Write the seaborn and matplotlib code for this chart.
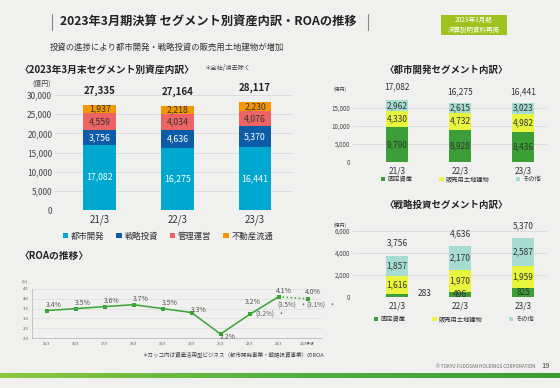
import matplotlib
matplotlib.use("Agg")
import matplotlib.pyplot as plt
import seaborn as sns
import numpy as np
import pandas as pd
from matplotlib.patches import Rectangle, Patch
from matplotlib.lines import Line2D
from matplotlib.colors import LinearSegmentedColormap

# ---------------- data ----------------
periods = ["21/3", "22/3", "23/3"]

seg_names = ["都市開発", "戦略投資", "管理運営", "不動産流通"]
seg_urban = [17082, 16275, 16441]
seg_strategic = [3756, 4636, 5370]
seg_mgmt = [4559, 4034, 4076]
seg_realestate = [1937, 2218, 2230]
seg_totals = [27335, 27164, 28117]

sub_names = ["固定資産", "販売用土地建物", "その他"]
ud_fixed = [9790, 8928, 8436]
ud_sale = [4330, 4732, 4982]
ud_other = [2962, 2615, 3023]
ud_totals = [17082, 16275, 16441]

si_fixed = [283, 496, 825]
si_sale = [1616, 1970, 1959]
si_other = [1857, 2170, 2587]
si_totals = [3756, 4636, 5370]

roa_periods = ["15/3", "16/3", "17/3", "18/3", "19/3", "20/3", "21/3", "22/3", "23/3", "24/3予想"]
roa_values = [3.4, 3.5, 3.6, 3.7, 3.5, 3.3, 2.2, 3.2, 4.1, 4.0]
roa_asset_labels = ["", "", "", "", "", "", "", "(3.2%)", "(3.5%)", "(3.1%)"]

# ---------------- style ----------------
sns.set_theme(style="white")
plt.rcParams["font.family"] = ["Noto Sans CJK JP", "DejaVu Sans"]
BG = "#f0f0ee"
W, H = 560, 388

seg_colors = ["#00a8d0", "#0d5ca8", "#ee6464", "#f39800"]
seg_txt = ["white", "white", "#333333", "#333333"]
sub_colors = ["#3c9e36", "#e8f53c", "#a6dcd2"]
sub_txt = ["#333333", "#333333", "#333333"]
GREEN = "#3aa335"

fig = plt.figure(figsize=(W / 100, H / 100), dpi=100, facecolor=BG)


def rect(x0, y0, x1, y1):
    return [x0 / W, 1 - y1 / H, (x1 - x0) / W, (y1 - y0) / H]


def fx(x):
    return x / W


def fy(y):
    return 1 - y / H


def stacked(ax, series, colors, width):
    arr = np.array(series, dtype=float)
    cum = np.cumsum(arr, axis=0)
    for k in range(len(series) - 1, -1, -1):
        df = pd.DataFrame({"period": periods, "v": cum[k]})
        sns.barplot(data=df, x="period", y="v", color=colors[k], saturation=1,
                    width=width, errorbar=None, ax=ax, linewidth=0)
    return arr, cum


def style_axes(ax, ymax, yticks, fs_tick, fs_cat):
    ax.set_facecolor(BG)
    ax.set_ylim(0, ymax)
    ax.set_yticks(yticks)
    ax.set_yticklabels([f"{t:,}" for t in yticks], fontsize=fs_tick, color="#444444")
    ax.tick_params(axis="x", labelsize=fs_cat, colors="#333333", length=0, pad=3)
    ax.tick_params(axis="y", length=0, pad=2)
    ax.set_xlabel("")
    ax.set_ylabel("")
    for s in ax.spines.values():
        s.set_visible(False)
    ax.grid(axis="y", color="#d9d9d9", linewidth=0.6)
    ax.set_axisbelow(True)


# ---------------- header ----------------
fig.add_artist(Line2D([fx(52), fx(52)], [fy(14), fy(30)], color="#888888", lw=0.8))
fig.add_artist(Line2D([fx(368), fx(368)], [fy(14), fy(30)], color="#888888", lw=0.8))
fig.text(fx(60), fy(22), "2023年3月期決算 セグメント別資産内訳・ROAの推移", fontsize=8.8,
         fontweight="bold", color="#222222", va="center", ha="left")
fig.add_artist(Rectangle((fx(441), fy(35)), (507 - 441) / W, 20 / H, transform=fig.transFigure,
                         facecolor="#9fc31e", edgecolor="none"))
fig.text(fx(474), fy(25), "2023年3月期\n決算説明資料再掲", fontsize=4.7, color="white",
         ha="center", va="center", linespacing=1.2)
fig.text(fx(50), fy(47), "投資の進捗により都市開発・戦略投資の販売用土地建物が増加", fontsize=6,
         color="#333333", va="center", ha="left")

# ---------------- main stacked chart ----------------
fig.text(fx(20), fy(70), "〈2023年3月末セグメント別資産内訳〉", fontsize=7, fontweight="bold",
         color="#222222", va="center", ha="left")
fig.text(fx(205), fy(68), "＊全社/消去除く", fontsize=4.5, color="#444444", va="center", ha="left")

ax1 = fig.add_axes(rect(55, 95, 293, 210))
arr, cum = stacked(ax1, [seg_urban, seg_strategic, seg_mgmt, seg_realestate], seg_colors, 0.425)
style_axes(ax1, 30000, [0, 5000, 10000, 15000, 20000, 25000, 30000], 6, 7)
ax1.set_xlim(-0.58, 2.49)
for k in range(arr.shape[0]):
    for i in range(len(periods)):
        ax1.text(i, cum[k, i] - arr[k, i] / 2, f"{int(arr[k, i]):,}", ha="center", va="center",
                 fontsize=6.3, color=seg_txt[k])
for i, t in enumerate(seg_totals):
    ax1.annotate(f"{t:,}", (i, cum[-1, i]), xytext=(0, 10), textcoords="offset points",
                 ha="center", va="center", fontsize=7, fontweight="bold", color="#222222",
                 annotation_clip=False)
fig.text(fx(42), fy(84), "(億円)", fontsize=5, color="#444444", ha="center", va="center")
handles = [Patch(facecolor=c, edgecolor="none") for c in seg_colors]
fig.legend(handles, seg_names, loc="center", bbox_to_anchor=(fx(168), fy(236)), ncol=4,
           frameon=False, fontsize=6, handlelength=0.7, handleheight=0.7, handletextpad=0.3,
           columnspacing=1.4, labelcolor="#333333")

# ---------------- urban development ----------------
fig.text(fx(446), fy(70), "〈都市開発セグメント内訳〉", fontsize=6.8, fontweight="bold",
         color="#222222", va="center", ha="center")
ax2 = fig.add_axes(rect(353, 96, 547, 162))
arr2, cum2 = stacked(ax2, [ud_fixed, ud_sale, ud_other], sub_colors, 0.36)
style_axes(ax2, 18300, [0, 5000, 10000, 15000], 4.5, 6)
ax2.set_xlim(-0.7, 2.38)
for k in range(arr2.shape[0]):
    for i in range(len(periods)):
        ax2.text(i, cum2[k, i] - arr2[k, i] / 2, f"{int(arr2[k, i]):,}", ha="center", va="center",
                 fontsize=6, color=sub_txt[k])
tot_off = [10, 8, 8]
for i, t in enumerate(ud_totals):
    ax2.annotate(f"{t:,}", (i, cum2[-1, i]), xytext=(0, tot_off[i]), textcoords="offset points",
                 ha="center", va="center", fontsize=6, color="#333333", annotation_clip=False)
fig.text(fx(340), fy(89), "(億円)", fontsize=3.5, color="#444444", ha="center", va="center")
handles2 = [Patch(facecolor=c, edgecolor="none") for c in sub_colors]
fig.legend(handles2, sub_names, loc="center", bbox_to_anchor=(fx(461), fy(179)), ncol=3,
           frameon=False, fontsize=4.5, handlelength=0.7, handleheight=0.7, handletextpad=0.3,
           columnspacing=4.3, labelcolor="#333333")

# ---------------- strategic investment ----------------
fig.text(fx(446), fy(205), "〈戦略投資セグメント内訳〉", fontsize=6.8, fontweight="bold",
         color="#222222", va="center", ha="center")
ax3 = fig.add_axes(rect(353, 231, 547, 297))
arr3, cum3 = stacked(ax3, [si_fixed, si_sale, si_other], sub_colors, 0.36)
style_axes(ax3, 6000, [0, 2000, 4000, 6000], 4.5, 6)
ax3.set_xlim(-0.7, 2.38)
for k in range(arr3.shape[0]):
    for i in range(len(periods)):
        if k == 0 and i == 0:
            ax3.text(i + 0.32, arr3[k, i] + 60, f"{int(arr3[k, i]):,}", ha="left", va="center",
                     fontsize=6, color="#333333")
        else:
            ax3.text(i, cum3[k, i] - arr3[k, i] / 2, f"{int(arr3[k, i]):,}", ha="center",
                     va="center", fontsize=6, color=sub_txt[k])
for i, t in enumerate(si_totals):
    ax3.annotate(f"{t:,}", (i, cum3[-1, i]), xytext=(0, 9), textcoords="offset points",
                 ha="center", va="center", fontsize=6, color="#333333", annotation_clip=False)
fig.text(fx(340), fy(225), "(億円)", fontsize=3.5, color="#444444", ha="center", va="center")
fig.legend(handles2, sub_names, loc="center", bbox_to_anchor=(fx(454), fy(319)), ncol=3,
           frameon=False, fontsize=4.5, handlelength=0.7, handleheight=0.7, handletextpad=0.3,
           columnspacing=4.3, labelcolor="#333333")

# ---------------- ROA ----------------
fig.text(fx(20), fy(256), "〈ROAの推移〉", fontsize=7, fontweight="bold", color="#222222",
         va="center", ha="left")
ax4 = fig.add_axes(rect(32, 289, 322, 338))
ax4.set_facecolor(BG)
xs = np.arange(len(roa_values))
df_solid = pd.DataFrame({"x": xs[:9], "roa": roa_values[:9]})
df_dot = pd.DataFrame({"x": xs[8:], "roa": roa_values[8:]})
sns.lineplot(data=df_solid, x="x", y="roa", color=GREEN, lw=1.1, marker="s", markersize=2.5,
             markeredgewidth=0, ax=ax4)
sns.lineplot(data=df_dot, x="x", y="roa", color=GREEN, lw=1.1, linestyle=":", marker="s",
             markersize=2.5, markeredgewidth=0, ax=ax4)
ax4.set_xlim(-0.5, 9.5)
ax4.set_ylim(2.0, 4.5)
ax4.set_yticks([2.0, 2.5, 3.0, 3.5, 4.0, 4.5])
ax4.set_yticklabels([f"{v:.1f}" for v in [2.0, 2.5, 3.0, 3.5, 4.0, 4.5]], fontsize=3,
                    color="#555555")
ax4.set_xticks(xs)
ax4.set_xticklabels(roa_periods, fontsize=2.6, color="#555555")
ax4.tick_params(length=0, pad=2.5)
ax4.set_xlabel("")
ax4.set_ylabel("")
ax4.grid(axis="y", color="#dddddd", linewidth=0.5)
ax4.set_axisbelow(True)
for s in ["top", "right"]:
    ax4.spines[s].set_visible(False)
for s in ["left", "bottom"]:
    ax4.spines[s].set_color("#bbbbbb")
    ax4.spines[s].set_linewidth(0.6)
fig.text(fx(25), fy(281), "(%)", fontsize=2.8, color="#555555", ha="center", va="center")

offsets = [(5, 4), (5, 4), (5, 4), (5, 4), (5, 4), (5, 2), (5, -2), (2, 9), (4, 4), (4, 5)]
for i, v in enumerate(roa_values):
    dx, dy = offsets[i]
    ax4.annotate(f"{v:.1f}%", (i, v), xytext=(dx, dy), textcoords="offset points",
                 ha="center", va="center", fontsize=5, color="#555555", annotation_clip=False)
asset_offsets = {7: (11, 0), 8: (6, -6), 9: (6, -5)}
for i, lab in enumerate(roa_asset_labels):
    if lab:
        dx, dy = asset_offsets[i]
        ax4.annotate(lab, (i, roa_values[i]), xytext=(dx, dy), textcoords="offset points",
                     ha="center", va="center", fontsize=4.5, color="#555555",
                     annotation_clip=False)
        ax4.annotate("*", (i, roa_values[i]), xytext=(dx + 12, dy - 1),
                     textcoords="offset points", ha="center", va="center", fontsize=4.5,
                     color="#555555", annotation_clip=False)
fig.text(fx(324), fy(354), "＊カッコ内は資産活用型ビジネス（都市開発事業・戦略投資事業）のROA",
         fontsize=4, color="#444444", ha="right", va="center")

# ---------------- footer ----------------
fig.text(fx(536), fy(367), "© TOKYU FUDOSAN HOLDINGS CORPORATION", fontsize=3.3,
         color="#666666", ha="right", va="center")
fig.text(fx(546), fy(366), "19", fontsize=5.5, color="#444444", ha="center", va="center")
axg = fig.add_axes(rect(0, 373, 560, 378))
cmap = LinearSegmentedColormap.from_list("g", ["#8cc63e", "#55b043", "#3b9b36"])
axg.imshow(np.linspace(0, 1, 256)[None, :], aspect="auto", cmap=cmap)
axg.axis("off")

fig.savefig("out.png", dpi=100, facecolor=BG)
